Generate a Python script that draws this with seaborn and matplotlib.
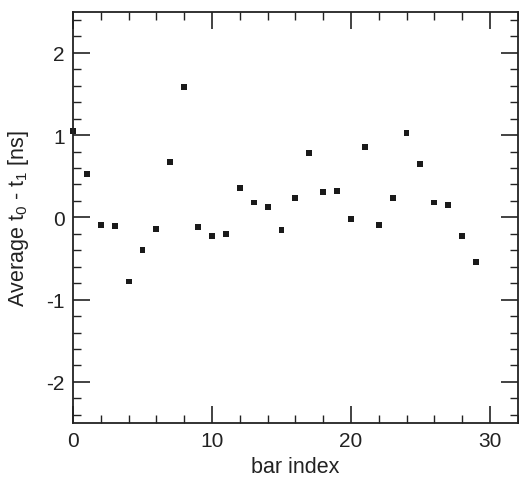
import pandas as pd
import matplotlib
matplotlib.use('Agg')
import matplotlib.pyplot as plt
from matplotlib.ticker import MultipleLocator
import seaborn as sns

# -------------------------------
# data
# -------------------------------
bar_index = list(range(30))
avg_dt = [1.05, 0.53, -0.09, -0.11, -0.78, -0.40, -0.14, 0.67, 1.59, -0.12,
          -0.23, -0.20, 0.36, 0.18, 0.13, -0.15, 0.23, 0.78, 0.31, 0.32,
          -0.02, 0.85, -0.09, 0.23, 1.03, 0.65, 0.18, 0.15, -0.23, -0.54]

data = pd.DataFrame({'bar': bar_index, 'dt': avg_dt})

sns.set_style('ticks')
plt.rcParams['font.family'] = ['Liberation Sans', 'DejaVu Sans']
plt.rcParams['mathtext.default'] = 'regular'
plt.rcParams['axes.unicode_minus'] = False

fig = plt.figure(figsize=(5.19, 4.81), dpi=100)
ax = fig.add_axes([0.1407, 0.1185, 0.8568, 0.8551])

sns.scatterplot(x='bar', y='dt', data=data, ax=ax, marker='s', s=18,
                color='#1a1a1a', edgecolor='none', linewidth=0, clip_on=False)

ax.set_xlim(0, 32)
ax.set_ylim(-2.5, 2.5)
ax.xaxis.set_major_locator(MultipleLocator(10))
ax.xaxis.set_minor_locator(MultipleLocator(2))
ax.yaxis.set_major_locator(MultipleLocator(1))
ax.yaxis.set_minor_locator(MultipleLocator(0.2))

ax.tick_params(which='both', direction='in', top=True, right=True,
               labelsize=15, color='#222222', labelcolor='#222222', pad=6)
ax.tick_params(which='major', length=12, width=1.2)
ax.tick_params(which='minor', length=6, width=1.0)
for sp in ax.spines.values():
    sp.set_linewidth(1.3)
    sp.set_color('#222222')

ax.set_xlabel('bar index', fontsize=15.5, color='#222222', labelpad=4)
ax.set_ylabel('Average t$_0$ - t$_1$ [ns]', fontsize=15.5, color='#222222', labelpad=11)

plt.savefig('out.png', dpi=100)
plt.close()
